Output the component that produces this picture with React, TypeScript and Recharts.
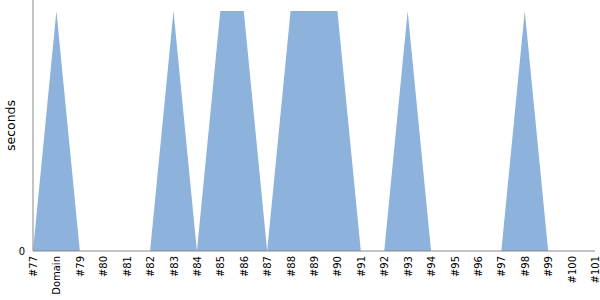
import { AreaChart, Area, XAxis, YAxis } from 'recharts';

const builds = [
  '#77', 'Domain', '#79', '#80', '#81', '#82', '#83', '#84', '#85', '#86',
  '#87', '#88', '#89', '#90', '#91', '#92', '#93', '#94', '#95', '#96',
  '#97', '#98', '#99', '#100', '#101',
];
const seconds = [
  0, 1, 0, 0, 0, 0, 1, 0, 1, 1,
  0, 1, 1, 1, 0, 0, 1, 0, 0, 0,
  0, 1, 0, 0, 0,
];
const yTicks = [0];

const chartData = builds.map((name, i) => ({ name, value: seconds[i] }));

function BuildTick({ x, y, payload }: { x: number; y: number; payload: { value: string } }) {
  const ty = y - 3;
  return (
    <text
      x={x}
      y={ty}
      transform={`rotate(-90, ${x}, ${ty})`}
      textAnchor="end"
      dy="0.4em"
      fontSize={10}
      fill="#000"
      fontFamily="DejaVu Sans"
    >
      {payload.value}
    </text>
  );
}

export default function App() {
  return (
    <div style={{ position: 'absolute', left: 0, top: 0, fontFamily: 'DejaVu Sans' }}>
      <AreaChart
        width={600}
        height={300}
        data={chartData}
        margin={{ top: 0, right: 5, bottom: 0, left: 0 }}
      >
        <XAxis
          dataKey="name"
          interval={0}
          height={49}
          tickLine={false}
          stroke="#888"
          tick={BuildTick}
        />
        <YAxis
          width={33}
          domain={[0, 1.046]}
          ticks={yTicks}
          tickLine={false}
          stroke="#888"
          tick={{ fill: '#000', fontSize: 10 }}
          label={{
            value: 'seconds',
            angle: -90,
            position: 'insideLeft',
            offset: 0,
            dx: 11,
            style: { fill: '#000', fontSize: 12.5, textAnchor: 'middle' },
          }}
        />
        <Area
          type="linear"
          dataKey="value"
          stroke="none"
          fill="#8db2db"
          fillOpacity={1}
          isAnimationActive={false}
        />
      </AreaChart>
    </div>
  );
}
